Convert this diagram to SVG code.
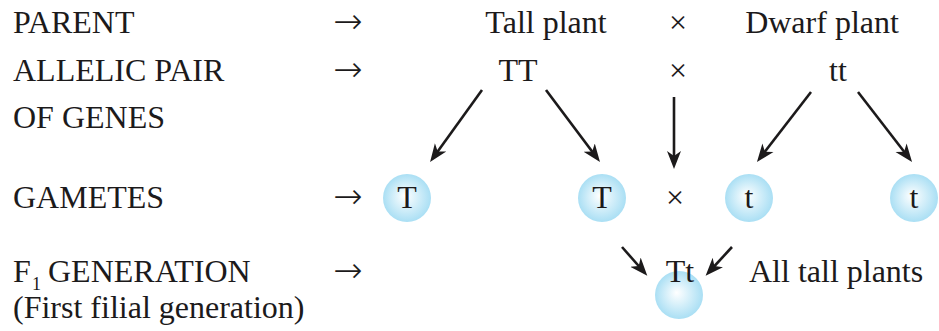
<svg xmlns="http://www.w3.org/2000/svg" width="939" height="331" viewBox="0 0 939 331">
<style>
text{font-family:"Liberation Serif","Times New Roman",serif;font-size:32px;fill:#1c1a1b}
.c{text-anchor:middle}
.sub{font-size:18px}
.arr{font-family:"DejaVu Sans","Liberation Sans",sans-serif;font-size:35px;font-weight:200}
.ar{stroke:#1c1a1b;stroke-width:2.6;fill:none;marker-end:url(#ah)}
</style>
<defs>
<radialGradient id="g" cx="50%" cy="50%" r="50%" fx="45%" fy="45%">
<stop offset="0" stop-color="#ffffff"/>
<stop offset="1" stop-color="#aadff4"/>
</radialGradient>
<marker id="ah" markerUnits="userSpaceOnUse" markerWidth="20" markerHeight="16" refX="13" refY="7" orient="auto" viewBox="0 0 20 14">
<path d="M0,0 L18,7 L0,14 L5,7 z" fill="#1c1a1b"/>
</marker>
</defs>
<g id="labels">
<text x="13" y="33">PARENT</text>
<text x="13" y="81">ALLELIC PAIR</text>
<text x="13" y="128">OF GENES</text>
<text x="13" y="208">GAMETES</text>
<text x="13" y="282">F</text>
<text class="sub" x="32" y="290">1</text>
<text x="48" y="282">GENERATION</text>
<text x="13" y="318">(First filial generation)</text>
<text class="c arr" x="348" y="33">→</text>
<text class="c arr" x="348" y="81">→</text>
<text class="c arr" x="348" y="208">→</text>
<text class="c arr" x="348" y="282">→</text>
</g>
<g id="parents">
<text class="c" x="546" y="33">Tall plant</text>
<text class="c" x="678" y="33">×</text>
<text class="c" x="822" y="33">Dwarf plant</text>
<text class="c" x="518" y="81">TT</text>
<text class="c" x="678" y="81">×</text>
<text class="c" x="838" y="81">tt</text>
</g>
<g id="gamete-T1"><circle cx="407" cy="198" r="24" fill="url(#g)"/><text class="c" x="407" y="208">T</text></g>
<g id="gamete-T2"><circle cx="602" cy="198" r="24" fill="url(#g)"/><text class="c" x="602" y="208">T</text></g>
<g id="cross-gametes"><text class="c" x="675" y="208">×</text></g>
<g id="gamete-t1"><circle cx="749" cy="198" r="24" fill="url(#g)"/><text class="c" x="749" y="208">t</text></g>
<g id="gamete-t2"><circle cx="914" cy="198" r="24" fill="url(#g)"/><text class="c" x="914" y="208">t</text></g>
<g id="f1"><circle cx="679" cy="295" r="24" fill="url(#g)"/><text class="c" x="680" y="282">Tt</text>
<text x="749" y="282">All tall plants</text></g>
<g id="connectors">
<line class="ar" x1="482" y1="90" x2="433" y2="158"/>
<line class="ar" x1="546" y1="90" x2="597" y2="158"/>
<line class="ar" x1="674" y1="97" x2="674" y2="164"/>
<line class="ar" x1="811" y1="92" x2="760" y2="158"/>
<line class="ar" x1="858" y1="92" x2="909" y2="158"/>
<line class="ar" x1="622" y1="247" x2="644" y2="272"/>
<line class="ar" x1="732" y1="247" x2="709" y2="272"/>
</g>
</svg>
